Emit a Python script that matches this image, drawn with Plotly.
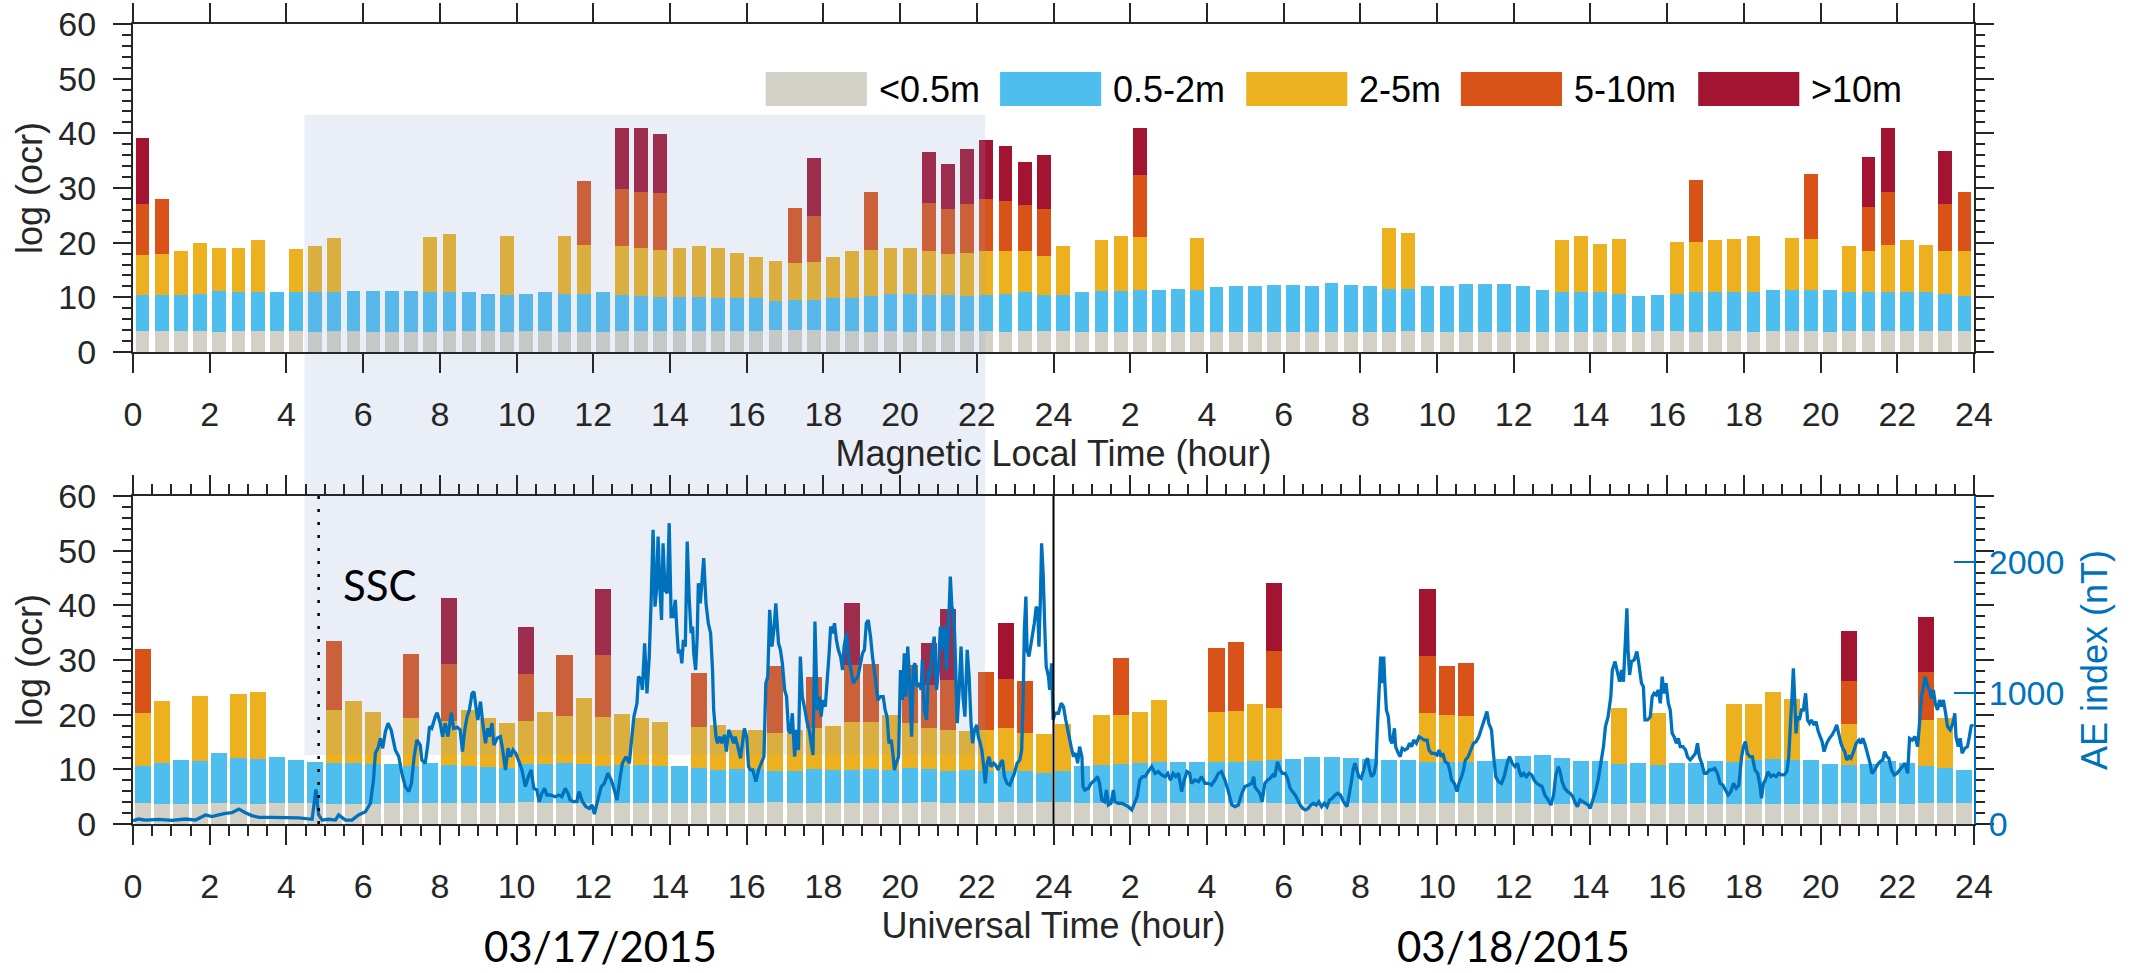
import plotly.graph_objects as go

# ---------------------------------------------------------------------------
# 30-minute bins spanning 17-18 March 2015 (hours from 00 UT on 17 March)
# ---------------------------------------------------------------------------
BIN_CENTRES = [0.25 + 0.5 * k for k in range(96)]

HOUR_TICKS = [0, 2, 4, 6, 8, 10, 12, 14, 16, 18, 20, 22, 24,
              26, 28, 30, 32, 34, 36, 38, 40, 42, 44, 46, 48]
HOUR_LABELS = ["0", "2", "4", "6", "8", "10", "12", "14", "16", "18", "20", "22", "24",
               "2", "4", "6", "8", "10", "12", "14", "16", "18", "20", "22", "24"]
OCR_TICKS = [0, 10, 20, 30, 40, 50, 60]
AE_TICKS = [0, 1000, 2000]

CLASS_NAMES = ["<0.5m", "0.5-2m", "2-5m", "5-10m", ">10m"]
CLASS_COLORS = ["#D3D0C5", "#4DBEEE", "#EDB120", "#D95319", "#A2142F"]

# ---------------------------------------------------------------------------
# Upper panel: occurrence binned by magnetic local time (cumulative stack tops)
# ---------------------------------------------------------------------------
MLT_LT05 = [3.9, 3.9, 3.9, 3.9, 3.7, 3.9, 3.9, 3.9, 3.9, 3.7,
            3.9, 3.9, 3.7, 3.7, 3.7, 3.7, 3.9, 3.9, 3.9, 3.7,
            3.9, 3.9, 3.7, 3.7, 3.7, 3.9, 3.9, 3.9, 3.9, 3.9,
            3.9, 3.9, 3.9, 4.1, 4.1, 4.1, 3.9, 3.9, 3.7, 3.9,
            3.7, 3.9, 3.9, 3.9, 3.9, 3.7, 3.9, 3.9,
            3.9, 3.7, 3.7, 3.7, 3.7, 3.7, 3.7, 3.7, 3.7, 3.7,
            3.7, 3.7, 3.7, 3.7, 3.7, 3.7, 3.7, 3.7, 3.9, 3.7,
            3.7, 3.7, 3.7, 3.7, 3.7, 3.7, 3.7, 3.7, 3.7, 3.7,
            3.7, 3.9, 3.9, 3.7, 3.9, 3.9, 3.7, 3.9, 3.9, 3.9,
            3.7, 3.9, 3.9, 3.9, 3.9, 3.9, 3.9, 3.9]
MLT_05_2 = [10.4, 10.4, 10.4, 10.7, 11.1, 10.9, 10.9, 11.0, 10.9, 10.9,
            10.9, 11.2, 11.2, 11.2, 11.2, 11.0, 10.9, 10.9, 10.7, 10.5,
            10.7, 10.9, 10.7, 10.7, 10.9, 10.5, 10.3, 10.1, 10.1, 10.1,
            9.9, 9.8, 9.8, 9.4, 9.6, 9.6, 9.8, 9.9, 10.3, 10.7,
            10.7, 10.5, 10.5, 10.3, 10.5, 10.7, 10.9, 10.5,
            10.5, 11.0, 11.2, 11.2, 11.4, 11.4, 11.6, 11.4, 11.8, 12.0,
            12.1, 12.3, 12.3, 12.1, 12.7, 12.3, 12.1, 11.6, 11.6, 12.1,
            12.1, 12.5, 12.5, 12.5, 12.0, 11.4, 11.0, 11.0, 10.9, 10.7,
            10.3, 10.5, 10.7, 10.9, 11.0, 11.0, 11.0, 11.4, 11.4, 11.4,
            11.4, 10.9, 10.9, 10.9, 11.0, 10.9, 10.7, 10.3]
MLT_2_5 = [17.8, 18.0, 18.5, 20.0, 19.1, 19.1, 20.5, None, 18.9, 19.3,
           20.9, None, None, None, None, 21.1, 21.6, None, None, 21.3,
           None, None, 21.3, 19.6, None, 19.3, 19.1, 18.7, 19.1, 19.3,
           19.1, 18.2, 17.3, 16.7, 16.2, 16.5, 17.4, 18.4, 18.7, 19.1,
           19.1, 18.5, 18.0, 18.2, 18.5, 18.5, 18.5, 17.6,
           19.3, None, 20.5, 21.3, 21.1, None, None, 20.9, None, None,
           None, None, None, None, None, None, None, 22.7, 21.8, None,
           None, None, None, None, None, None, 20.4, 21.3, 19.8, 20.7,
           None, None, 20.2, 20.2, 20.5, 20.7, 21.3, None, 20.9, 20.7,
           None, 19.3, 18.4, 19.5, 20.4, 19.5, 18.5, 18.5]
MLT_5_10 = {0.25: 27.1, 0.75: 27.9, 11.75: 31.3, 12.75: 29.9, 13.25: 29.3, 13.75: 29.0,
            17.25: 26.4, 17.75: 24.9, 19.25: 29.3, 20.75: 27.3, 21.25: 26.2, 21.75: 27.1,
            22.25: 28.0, 22.75: 27.7, 23.25: 26.8, 23.75: 26.2, 26.25: 32.3, 40.75: 31.5,
            43.75: 32.6, 45.25: 26.6, 45.75: 29.3, 47.25: 27.1, 47.75: 29.3}
MLT_GT10 = {0.25: 39.2, 12.75: 41.0, 13.25: 40.9, 13.75: 39.8, 17.75: 35.5, 20.75: 36.6,
            21.25: 34.3, 21.75: 37.2, 22.25: 38.8, 22.75: 37.6, 23.25: 34.8, 23.75: 36.1,
            26.25: 40.9, 45.25: 35.7, 45.75: 40.9, 47.25: 36.8}

# ---------------------------------------------------------------------------
# Lower panel: occurrence binned by universal time (cumulative stack tops)
# ---------------------------------------------------------------------------
UT_LT05 = [3.9, 3.7, 3.7, 3.7, 3.9, 3.7, 3.7, 3.9, 3.9, 3.9,
           3.7, 3.7, 3.7, 3.9, 3.9, 3.9, 3.9, 3.9, 3.9, 3.9,
           4.1, 3.9, 3.9, 3.9, 3.9, 3.9, 3.9, 3.9, 3.9, 3.9,
           3.9, 3.9, 3.9, 4.1, 3.9, 3.9, 3.9, 3.9, 3.9, 3.9,
           3.9, 4.1, 3.9, 3.9, 3.9, 4.1, 3.9, 4.1,
           4.1, 3.9, 3.9, 3.9, 3.9, 3.9, 3.9, 3.9, 3.9, 3.9,
           3.9, 3.9, 3.7, 3.7, 3.7, 3.9, 3.9, 3.9, 3.9, 3.9,
           3.9, 3.9, 3.9, 3.9, 3.9, 3.7, 3.7, 3.7, 3.9, 3.7,
           3.9, 3.7, 3.7, 3.7, 3.7, 3.7, 3.7, 3.7, 3.7, 3.7,
           3.7, 3.9, 3.7, 3.9, 3.7, 3.9, 3.9, 3.9]
UT_05_2 = [10.7, 11.2, 11.7, 11.5, 13.0, 12.1, 11.9, 12.3, 11.7, 11.4,
           11.2, 11.2, 11.0, 11.0, 10.6, 11.2, 10.8, 10.6, 10.4, 10.2,
           11.0, 11.0, 11.2, 11.0, 10.6, 10.8, 10.8, 10.6, 10.6, 10.3,
           9.9, 10.1, 10.1, 9.7, 9.7, 10.1, 9.9, 9.9, 10.1, 9.9,
           10.3, 10.1, 9.7, 9.9, 9.7, 9.7, 9.7, 9.3,
           9.7, 10.6, 10.8, 11.0, 11.2, 11.3, 11.3, 11.3, 11.3, 11.3,
           11.5, 11.7, 11.9, 12.3, 12.3, 12.1, 11.9, 11.7, 11.7, 11.3,
           11.3, 11.3, 11.5, 11.9, 12.4, 12.6, 12.1, 11.5, 11.5, 11.0,
           11.2, 10.8, 11.2, 11.2, 11.5, 11.3, 11.7, 11.9, 11.7, 11.7,
           11.0, 10.8, 11.0, 11.5, 11.2, 10.6, 10.3, 9.9]
UT_2_5 = [20.3, 22.5, None, 23.4, None, 23.8, 24.2, None, None, None,
          20.9, 22.5, 20.4, None, 19.4, None, 18.9, 20.9, 19.4, 18.5,
          18.9, 20.5, 19.8, 23.1, 19.6, 20.1, 19.4, 18.7, None, 17.8,
          18.1, 17.2, 17.2, 16.7, 17.2, 17.6, 17.9, 18.7, 18.7, 20.0,
          18.5, 17.6, 17.2, 17.0, 17.2, 17.6, 16.7, 16.5,
          18.3, None, 20.0, 20.0, 20.5, 22.7, None, None, 20.5, 20.7,
          22.0, 21.2, None, None, None, None, None, None, None, 20.3,
          20.0, 19.8, None, None, None, None, None, None, None, 21.2,
          None, 20.3, None, None, None, 22.0, 22.0, 24.2, 22.9, None,
          None, 18.3, None, None, None, 19.0, 19.4, None]
UT_5_10 = {0.25: 32.0, 5.25: 33.5, 7.25: 31.1, 8.25: 29.3, 10.25: 27.5, 11.25: 30.9,
           12.25: 30.9, 14.75: 27.6, 16.75: 28.9, 17.75: 26.9, 18.75: 29.1, 19.25: 29.3,
           20.25: 29.1, 20.75: 25.4, 21.25: 26.4, 22.25: 27.8, 22.75: 26.5, 23.25: 26.2,
           25.75: 30.4, 28.25: 32.2, 28.75: 33.3, 29.75: 31.7, 33.75: 30.8, 34.25: 28.9,
           34.75: 29.5, 44.75: 26.2, 46.75: 27.8}
UT_GT10 = {8.25: 41.4, 10.25: 36.1, 12.25: 43.0, 18.75: 40.5, 20.75: 33.1, 21.25: 39.4,
           22.75: 36.8, 29.75: 44.1, 33.75: 43.0, 44.75: 35.3, 46.75: 37.9}

# ---------------------------------------------------------------------------
# AE index (hour, nT)
# ---------------------------------------------------------------------------
AE_17MAR_AM = [(0.00, 25), (0.15, 38), (0.32, 30), (0.67, 36), (1.02, 28), (1.37, 38), (1.63, 30),
    (1.89, 69), (2.06, 56), (2.23, 69), (2.41, 81), (2.58, 86), (2.76, 114), (2.93, 86), (3.10, 64),
    (3.28, 51), (3.63, 51), (3.97, 48), (4.32, 46), (4.67, 36), (4.77, 264), (4.84, 69), (4.93, 30),
    (5.10, 36), (5.28, 30), (5.36, 69), (5.54, 30), (5.71, 30), (5.88, 69), (6.06, 94), (6.19, 158),
    (6.27, 335), (6.32, 539), (6.40, 590), (6.45, 653), (6.51, 577), (6.58, 704), (6.65, 768),
    (6.73, 717), (6.84, 564), (6.93, 513), (7.01, 386), (7.10, 285), (7.19, 247), (7.26, 310),
    (7.33, 513), (7.40, 640), (7.49, 602), (7.53, 488), (7.62, 463), (7.69, 615), (7.73, 742),
    (7.79, 729), (7.88, 818), (7.93, 849), (8.01, 768), (8.07, 666), (8.14, 768), (8.21, 666),
    (8.30, 849), (8.36, 729), (8.46, 737), (8.53, 717), (8.59, 552), (8.65, 717), (8.71, 818),
    (8.77, 869), (8.84, 996), (8.89, 1009), (8.94, 895), (8.99, 793), (9.06, 933), (9.12, 768),
    (9.19, 615), (9.25, 729), (9.29, 666), (9.36, 768), (9.41, 602), (9.49, 653), (9.58, 666),
    (9.64, 564), (9.71, 412), (9.78, 577), (9.84, 513), (9.91, 564), (9.98, 539), (10.05, 488),
    (10.14, 412), (10.23, 285), (10.31, 361), (10.38, 412), (10.45, 272), (10.53, 259), (10.59, 170),
    (10.66, 234), (10.73, 272), (10.79, 221), (10.88, 221), (11.01, 208), (11.10, 221), (11.18, 208),
    (11.27, 272), (11.34, 234), (11.40, 183), (11.49, 170), (11.57, 170), (11.63, 247), (11.72, 170),
    (11.81, 132), (11.90, 119), (11.97, 145), (12.03, 76)]
AE_17MAR_PM = [(12.14, 208), (12.21, 285), (12.29, 310), (12.38, 386), (12.47, 335), (12.55, 259),
    (12.62, 183), (12.69, 335), (12.76, 463), (12.85, 513), (12.94, 463), (12.99, 615), (13.06, 818),
    (13.14, 920), (13.18, 1123), (13.25, 1098), (13.28, 1022), (13.34, 1378), (13.40, 996),
    (13.46, 1276), (13.51, 1708), (13.56, 2242), (13.61, 1657), (13.65, 1784), (13.69, 2191),
    (13.74, 1784), (13.78, 1555), (13.82, 2140), (13.87, 1784), (13.93, 1759), (13.98, 2293),
    (14.03, 1581), (14.08, 1581), (14.14, 1708), (14.18, 1479), (14.22, 1301), (14.27, 1327),
    (14.31, 1225), (14.35, 1403), (14.40, 1352), (14.45, 2153), (14.50, 1733), (14.55, 1454),
    (14.59, 1505), (14.62, 1301), (14.67, 1174), (14.71, 1428), (14.74, 1835), (14.79, 1682),
    (14.83, 1835), (14.88, 2026), (14.94, 1682), (15.00, 1530), (15.06, 1454), (15.11, 1174),
    (15.14, 869), (15.20, 666), (15.24, 615), (15.30, 666), (15.35, 615), (15.42, 679), (15.47, 552),
    (15.53, 717), (15.60, 666), (15.66, 615), (15.70, 666), (15.77, 590), (15.84, 501), (15.89, 615),
    (15.94, 729), (16.00, 666), (16.05, 437), (16.10, 412), (16.16, 412), (16.24, 323), (16.31, 412),
    (16.38, 463), (16.45, 513), (16.50, 1073), (16.55, 1123), (16.60, 1632), (16.66, 1352),
    (16.71, 1479), (16.76, 1682), (16.83, 1378), (16.88, 1327), (16.93, 1225), (16.99, 1022),
    (17.04, 971), (17.09, 717), (17.14, 691), (17.19, 844), (17.25, 513), (17.30, 717), (17.35, 564),
    (17.40, 1276), (17.45, 971), (17.52, 869), (17.58, 768), (17.63, 717), (17.68, 615), (17.73, 526),
    (17.78, 1543), (17.84, 869), (17.89, 971), (17.94, 818), (17.99, 945), (18.05, 895), (18.10, 1098),
    (18.15, 1301), (18.19, 1505), (18.24, 1454), (18.29, 1530), (18.34, 1403), (18.39, 1327),
    (18.45, 1276), (18.50, 1174), (18.54, 1352), (18.60, 1454), (18.65, 1276), (18.72, 1174),
    (18.78, 1073), (18.83, 1098), (18.90, 1123), (18.97, 1225), (19.02, 1301), (19.07, 1327),
    (19.12, 1530), (19.17, 1555), (19.23, 1428), (19.28, 1276), (19.35, 1123), (19.42, 945),
    (19.49, 971), (19.56, 971), (19.61, 869), (19.66, 818), (19.71, 615), (19.77, 640), (19.82, 513),
    (19.85, 412), (19.90, 463), (19.96, 513), (20.01, 1174), (20.06, 945), (20.11, 1301), (20.15, 971),
    (20.20, 1352), (20.25, 1073), (20.30, 666), (20.35, 1200), (20.39, 1225), (20.44, 1047),
    (20.50, 1073), (20.55, 1022), (20.58, 1250), (20.63, 869), (20.69, 793), (20.74, 1174),
    (20.79, 1123), (20.83, 1301), (20.89, 1428), (20.95, 1022), (21.00, 1174), (21.05, 1505),
    (21.10, 1327), (21.16, 1505), (21.21, 1174), (21.26, 1479), (21.31, 1886), (21.35, 1657),
    (21.40, 1606), (21.43, 1378), (21.49, 768), (21.54, 1022), (21.59, 1352), (21.64, 971),
    (21.69, 818), (21.75, 1327), (21.80, 1123), (21.85, 768), (21.89, 615), (21.94, 717), (22.00, 755),
    (22.04, 666), (22.09, 615), (22.13, 564), (22.18, 437), (22.22, 310), (22.27, 463), (22.32, 513),
    (22.37, 437), (22.44, 463), (22.49, 450), (22.56, 412), (22.62, 463), (22.67, 488), (22.72, 361),
    (22.79, 310), (22.86, 297), (22.91, 335), (22.98, 386), (23.05, 463), (23.12, 488), (23.17, 564),
    (23.21, 971), (23.24, 1479), (23.28, 1733), (23.31, 1327), (23.36, 1276), (23.43, 1403),
    (23.50, 1530), (23.55, 1657), (23.59, 1632), (23.62, 1352), (23.66, 1733), (23.69, 2140),
    (23.73, 1911), (23.78, 1428), (23.81, 1200), (23.87, 1123), (23.90, 1022), (23.95, 1225),
    (23.99, 793), (24.04, 844)]
AE_18MAR_AM = [(24.13, 844), (24.20, 920), (24.26, 895), (24.32, 793), (24.39, 691), (24.46, 590),
    (24.52, 513), (24.58, 539), (24.63, 463), (24.68, 590), (24.74, 513), (24.77, 285), (24.82, 259),
    (24.91, 272), (24.98, 310), (25.08, 335), (25.15, 361), (25.20, 310), (25.26, 183), (25.33, 170),
    (25.38, 259), (25.43, 145), (25.50, 158), (25.56, 259), (25.60, 170), (25.69, 158), (25.78, 158),
    (25.87, 145), (25.95, 132), (26.04, 107), (26.11, 158), (26.18, 208), (26.25, 335), (26.32, 361),
    (26.39, 361), (26.47, 399), (26.56, 437), (26.65, 386), (26.73, 399), (26.82, 374), (26.91, 361),
    (26.98, 386), (27.05, 335), (27.12, 386), (27.19, 361), (27.26, 386), (27.34, 247), (27.41, 335),
    (27.48, 399), (27.55, 386), (27.60, 310), (27.69, 335), (27.78, 323), (27.86, 361), (27.95, 310),
    (28.04, 310), (28.12, 297), (28.21, 335), (28.30, 386), (28.38, 399), (28.47, 335), (28.56, 247),
    (28.65, 145), (28.73, 132), (28.82, 145), (28.91, 234), (28.99, 285), (29.08, 297), (29.17, 310),
    (29.22, 361), (29.25, 285), (29.31, 259), (29.38, 234), (29.44, 170), (29.51, 310), (29.58, 335),
    (29.65, 348), (29.72, 374), (29.77, 361), (29.84, 475), (29.91, 412), (29.97, 386), (30.04, 386),
    (30.10, 348), (30.17, 272), (30.23, 247), (30.30, 221), (30.37, 183), (30.43, 145), (30.50, 119),
    (30.57, 107), (30.64, 119), (30.71, 145), (30.78, 158), (30.85, 145), (30.92, 170), (30.99, 132),
    (31.06, 158), (31.13, 132), (31.20, 183), (31.27, 196), (31.34, 221), (31.41, 234), (31.48, 221),
    (31.56, 170), (31.65, 132), (31.70, 208), (31.76, 310), (31.81, 412), (31.86, 463), (31.91, 412),
    (31.96, 361), (32.02, 348), (32.09, 412), (32.14, 475), (32.19, 501), (32.24, 412), (32.29, 361),
    (32.36, 386), (32.41, 463), (32.45, 768), (32.49, 1022), (32.53, 1276), (32.57, 1073),
    (32.61, 1276), (32.64, 1073), (32.68, 869), (32.73, 818), (32.78, 640), (32.83, 615), (32.89, 729),
    (32.92, 590), (32.99, 539), (33.04, 513), (33.09, 577), (33.16, 564), (33.23, 577), (33.28, 615),
    (33.34, 590), (33.39, 640), (33.46, 615), (33.53, 666), (33.60, 653), (33.67, 640), (33.74, 640),
    (33.79, 564), (33.86, 539), (33.93, 539), (34.00, 526), (34.05, 564), (34.10, 513), (34.15, 539),
    (34.21, 475), (34.28, 463), (34.33, 412), (34.38, 335), (34.45, 310), (34.52, 247), (34.57, 310),
    (34.64, 361), (34.69, 412), (34.74, 488), (34.81, 513), (34.88, 564), (34.95, 615), (35.02, 628),
    (35.09, 666), (35.16, 729), (35.23, 793), (35.30, 857), (35.35, 768), (35.42, 717), (35.47, 539),
    (35.53, 361), (35.60, 323), (35.68, 310), (35.75, 361)]
AE_18MAR_PM = [(35.84, 475), (35.89, 513), (35.96, 463), (36.03, 437), (36.10, 463), (36.15, 399),
    (36.20, 361), (36.26, 386), (36.33, 361), (36.40, 386), (36.47, 374), (36.53, 335), (36.60, 310),
    (36.67, 297), (36.74, 285), (36.81, 221), (36.90, 183), (36.97, 145), (37.04, 221), (37.09, 361),
    (37.16, 437), (37.21, 399), (37.26, 323), (37.33, 272), (37.40, 247), (37.47, 234), (37.54, 208),
    (37.61, 158), (37.66, 132), (37.73, 183), (37.80, 170), (37.87, 158), (37.94, 145), (37.99, 119),
    (38.06, 183), (38.13, 247), (38.20, 335), (38.27, 463), (38.34, 590), (38.39, 742), (38.46, 818),
    (38.53, 971), (38.57, 1174), (38.64, 1238), (38.71, 1149), (38.76, 1085), (38.81, 1174),
    (38.86, 1085), (38.92, 1454), (38.95, 1644), (38.98, 1327), (39.02, 1136), (39.07, 1238),
    (39.14, 1250), (39.21, 1314), (39.26, 1225), (39.33, 1073), (39.38, 1047), (39.42, 793),
    (39.49, 793), (39.56, 818), (39.61, 971), (39.66, 996), (39.71, 984), (39.77, 1022), (39.82, 920),
    (39.87, 1123), (39.92, 996), (39.97, 1073), (40.03, 920), (40.08, 869), (40.13, 691), (40.18, 666),
    (40.24, 615), (40.29, 653), (40.34, 590), (40.41, 590), (40.48, 564), (40.53, 513), (40.60, 488),
    (40.67, 513), (40.74, 539), (40.79, 615), (40.84, 513), (40.90, 463), (40.97, 386), (41.03, 386),
    (41.10, 412), (41.17, 412), (41.24, 424), (41.31, 386), (41.38, 310), (41.45, 297), (41.52, 259),
    (41.59, 221), (41.66, 247), (41.73, 310), (41.80, 272), (41.87, 297), (41.94, 513), (41.99, 590),
    (42.04, 628), (42.09, 539), (42.15, 513), (42.22, 513), (42.29, 412), (42.36, 386), (42.41, 310),
    (42.46, 196), (42.51, 310), (42.56, 335), (42.63, 399), (42.70, 361), (42.77, 374), (42.84, 361),
    (42.91, 386), (42.98, 374), (43.05, 374), (43.12, 399), (43.17, 513), (43.22, 793), (43.26, 996),
    (43.29, 1187), (43.33, 920), (43.36, 691), (43.40, 818), (43.45, 793), (43.50, 869), (43.55, 869),
    (43.61, 996), (43.66, 793), (43.71, 768), (43.76, 793), (43.83, 755), (43.88, 780), (43.94, 704),
    (43.99, 666), (44.04, 628), (44.09, 552), (44.16, 615), (44.23, 653), (44.30, 679), (44.37, 717),
    (44.42, 755), (44.48, 679), (44.53, 615), (44.58, 577), (44.63, 552), (44.68, 488), (44.74, 513),
    (44.79, 501), (44.86, 552), (44.93, 615), (45.00, 640), (45.05, 615), (45.10, 653), (45.15, 615),
    (45.22, 539), (45.29, 463), (45.34, 386), (45.41, 412), (45.48, 450), (45.55, 475), (45.62, 488),
    (45.67, 552), (45.73, 513), (45.78, 501), (45.85, 412), (45.92, 374), (45.99, 386), (46.06, 412),
    (46.13, 437), (46.20, 463), (46.27, 386), (46.32, 653), (46.39, 640), (46.46, 666), (46.53, 590),
    (46.58, 768), (46.63, 971), (46.68, 1047), (46.73, 1123), (46.79, 1047), (46.84, 1022),
    (46.89, 958), (46.94, 1022), (46.99, 920), (47.05, 869), (47.10, 945), (47.15, 895), (47.20, 945),
    (47.26, 844), (47.31, 742), (47.38, 717), (47.45, 768), (47.50, 844), (47.53, 666), (47.59, 590),
    (47.64, 653), (47.69, 539), (47.76, 577), (47.83, 590), (47.88, 666), (47.93, 755), (47.98, 742)]

# Storm interval highlight and sudden storm commencement
SHADE_START_H = 4.47
SHADE_END_H = 22.22
SHADE_TOP_MLT = 43.4
SHADE_BOTTOM_UT = 12.6
SSC_TIME_H = 4.84
DAY_BOUNDARY_H = 24
DATE_LABELS = [(12.2, "03/17/2015"), (36.0, "03/18/2015")]

# ---------------------------------------------------------------------------
# Styling
# ---------------------------------------------------------------------------
INK = "#262626"
AE_BLUE = "#0072BD"
SHADE = "rgba(140,160,210,0.18)"
SANS = "Liberation Sans, Arial, Helvetica, sans-serif"
HUMANIST = "Lato, Open Sans, sans-serif"
TICK_FONT = dict(family=SANS, size=34, color=INK)
TITLE_FONT = dict(family=SANS, size=36, color=INK)

TOP_DOMAIN = [0.59, 1.0]
BOTTOM_DOMAIN = [0.0, 0.41]
OCR_RANGE = [0, 60]
AE_RANGE = [0, 2500]


def stack_segments(lt05, b05_2, b2_5, b5_10, gt10):
    """Turn cumulative class tops into per-class segment heights."""
    o = [b5_10.get(h) for h in BIN_CENTRES]
    r = [gt10.get(h) for h in BIN_CENTRES]
    seg = [list(lt05), [], [], [], []]
    for k in range(len(BIN_CENTRES)):
        seg[1].append(round(b05_2[k] - lt05[k], 3))
        seg[2].append(None if b2_5[k] is None else round(b2_5[k] - b05_2[k], 3))
        seg[3].append(None if o[k] is None else round(o[k] - b2_5[k], 3))
        seg[4].append(None if r[k] is None else round(r[k] - o[k], 3))
    return seg


for arr in (MLT_LT05, MLT_05_2, MLT_2_5, UT_LT05, UT_05_2, UT_2_5):
    assert len(arr) == len(BIN_CENTRES)

fig = go.Figure()

# --- stacked bars, upper panel (MLT) ---
for name, color, ys in zip(CLASS_NAMES, CLASS_COLORS,
                           stack_segments(MLT_LT05, MLT_05_2, MLT_2_5, MLT_5_10, MLT_GT10)):
    fig.add_trace(go.Bar(x=BIN_CENTRES, y=ys, width=0.36, name=name,
                         marker=dict(color=color, line=dict(width=0)),
                         xaxis="x", yaxis="y", showlegend=False))

# --- stacked bars, lower panel (UT) ---
for name, color, ys in zip(CLASS_NAMES, CLASS_COLORS,
                           stack_segments(UT_LT05, UT_05_2, UT_2_5, UT_5_10, UT_GT10)):
    fig.add_trace(go.Bar(x=BIN_CENTRES, y=ys, width=0.42, name=name,
                         marker=dict(color=color, line=dict(width=0)),
                         xaxis="x2", yaxis="y2", showlegend=False))

# --- storm-interval shading laid over the bars in each panel ---
fig.add_trace(go.Scatter(
    x=[SHADE_START_H, SHADE_END_H, SHADE_END_H, SHADE_START_H, SHADE_START_H],
    y=[OCR_RANGE[0], OCR_RANGE[0], SHADE_TOP_MLT, SHADE_TOP_MLT, OCR_RANGE[0]],
    mode="lines", fill="toself", fillcolor=SHADE, line=dict(width=0),
    hoverinfo="skip", showlegend=False, xaxis="x", yaxis="y"))
fig.add_trace(go.Scatter(
    x=[SHADE_START_H, SHADE_END_H, SHADE_END_H, SHADE_START_H, SHADE_START_H],
    y=[SHADE_BOTTOM_UT, SHADE_BOTTOM_UT, OCR_RANGE[1], OCR_RANGE[1], SHADE_BOTTOM_UT],
    mode="lines", fill="toself", fillcolor=SHADE, line=dict(width=0),
    hoverinfo="skip", showlegend=False, xaxis="x2", yaxis="y2"))

# --- AE index on the right-hand axis of the lower panel ---
ae_points = AE_17MAR_AM + AE_17MAR_PM + AE_18MAR_AM + AE_18MAR_PM
fig.add_trace(go.Scatter(
    x=[p[0] for p in ae_points], y=[p[1] for p in ae_points],
    mode="lines", line=dict(color=AE_BLUE, width=3.3, simplify=False),
    name="AE", showlegend=False, xaxis="x2", yaxis="y3"))


def time_axis(title, standoff, minor=None, **extra):
    ax = dict(range=[0, 48], tickmode="array", tickvals=HOUR_TICKS, ticktext=HOUR_LABELS,
              ticks="outside", ticklen=19, tickwidth=2, tickcolor=INK,
              showline=True, linewidth=2, linecolor=INK, mirror="ticks",
              showgrid=False, zeroline=False, tickfont=TICK_FONT, ticklabelstandoff=12,
              automargin=False,
              title=dict(text=title, font=TITLE_FONT, standoff=standoff))
    if minor:
        ax["minor"] = minor
    ax.update(extra)
    return ax


def ocr_axis(domain):
    return dict(domain=domain, range=OCR_RANGE, tickmode="array", tickvals=OCR_TICKS,
                ticks="outside", ticklen=18, tickwidth=2, tickcolor=INK,
                minor=dict(tickmode="linear", tick0=0, dtick=2, ticks="outside",
                           ticklen=9, tickwidth=2, tickcolor=INK, showgrid=False),
                showline=True, linewidth=2, linecolor=INK, mirror="ticks",
                showgrid=False, zeroline=False, tickfont=TICK_FONT, ticklabelstandoff=10,
                automargin=False,
                title=dict(text="log (ocr)", font=TITLE_FONT, standoff=5))


fig.update_layout(
    template="none",
    width=2144, height=973,
    margin=dict(l=133, r=170, t=24, b=149, autoexpand=False),
    paper_bgcolor="white", plot_bgcolor="white",
    barmode="stack", bargap=0,
    xaxis=time_axis("Magnetic Local Time (hour)", 8, anchor="y", domain=[0, 1]),
    yaxis=dict(ocr_axis(TOP_DOMAIN), anchor="x"),
    xaxis2=time_axis("Universal Time (hour)", 9,
                     minor=dict(tickmode="linear", tick0=0, dtick=0.5, ticks="outside",
                                ticklen=10, tickwidth=2, tickcolor=INK, showgrid=False),
                     anchor="y2", domain=[0, 1]),
    yaxis2=dict(ocr_axis(BOTTOM_DOMAIN), anchor="x2"),
    yaxis3=dict(overlaying="y2", anchor="x2", side="right", range=AE_RANGE,
                tickmode="array", tickvals=AE_TICKS, ticks="inside", ticklen=20,
                tickwidth=2, tickcolor=AE_BLUE, showline=True, linewidth=2,
                linecolor=AE_BLUE, showgrid=False, zeroline=False, automargin=False,
                tickfont=dict(family=SANS, size=34, color=AE_BLUE), ticklabelstandoff=6,
                title=dict(text="AE index (nT)", font=dict(family=SANS, size=36, color=AE_BLUE),
                           standoff=18)),
)

shapes = []
# shading across the gap between the two panels
shapes.append(dict(type="rect", xref="x", yref="paper",
                   x0=SHADE_START_H, x1=SHADE_END_H, y0=BOTTOM_DOMAIN[1], y1=TOP_DOMAIN[0],
                   fillcolor=SHADE, line=dict(width=0), layer="below"))
# sudden storm commencement marker
shapes.append(dict(type="line", xref="x2", yref="y2", x0=SSC_TIME_H, x1=SSC_TIME_H,
                   y0=OCR_RANGE[0], y1=OCR_RANGE[1],
                   line=dict(color="black", width=2.5, dash="3px,10px"), layer="above"))
# boundary between the two days
shapes.append(dict(type="line", xref="x2", yref="y2", x0=DAY_BOUNDARY_H, x1=DAY_BOUNDARY_H,
                   y0=OCR_RANGE[0], y1=OCR_RANGE[1],
                   line=dict(color="black", width=2), layer="above"))

annotations = [
    dict(xref="x2", yref="y2", x=5.41, y=43.8, text="SSC", showarrow=False,
         xanchor="left", yanchor="middle", font=dict(family=HUMANIST, size=42, color="black")),
]
for xh, label in DATE_LABELS:
    annotations.append(dict(xref="x2", yref="paper", x=xh, y=-0.1525, text=label,
                            showarrow=False, xanchor="center", yanchor="middle",
                            font=dict(family=HUMANIST, size=42, color="black")))

# legend drawn as wide colour swatches across the top of the upper panel
LEGEND_X0 = [0.3437, 0.4710, 0.6047, 0.7213, 0.8502]
SWATCH_W = 0.0549
SWATCH_Y = (0.8975, 0.94)
for x0, name, color in zip(LEGEND_X0, CLASS_NAMES, CLASS_COLORS):
    shapes.append(dict(type="rect", xref="paper", yref="paper",
                       x0=x0, x1=x0 + SWATCH_W, y0=SWATCH_Y[0], y1=SWATCH_Y[1],
                       fillcolor=color, line=dict(width=0), layer="above"))
    annotations.append(dict(xref="paper", yref="paper", x=x0 + SWATCH_W + 0.0055,
                            y=sum(SWATCH_Y) / 2, text=name, showarrow=False,
                            xanchor="left", yanchor="middle",
                            font=dict(family=SANS, size=36, color="black")))

fig.update_layout(shapes=shapes, annotations=annotations)

fig.write_html("out.html")
